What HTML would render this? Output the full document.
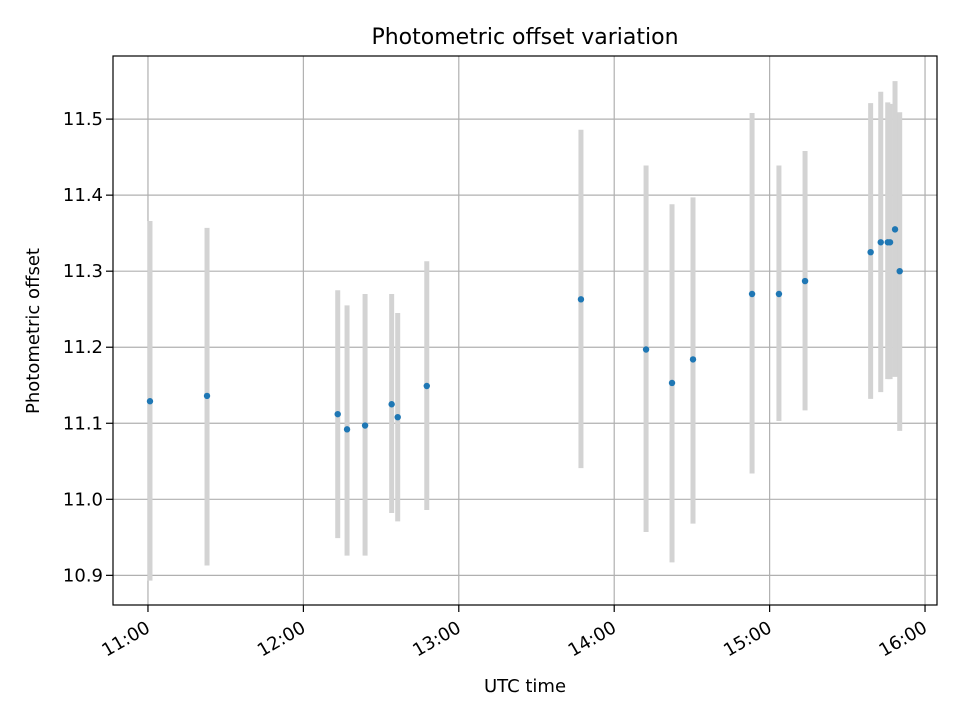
<!DOCTYPE html>
<html><head><meta charset="utf-8"><style>
html,body{margin:0;padding:0;background:#fff;}
svg text{font-family:"DejaVu Sans","Liberation Sans",sans-serif;fill:#000;}
</style></head><body>
<svg id="chart" width="960" height="720" viewBox="0 0 960 720" xmlns="http://www.w3.org/2000/svg">
<rect width="960" height="720" fill="#fff"/>
<g id="grid"></g>
<g id="bars"></g>
<g id="pts"></g>
<rect x="113" y="56" width="824" height="549" fill="none" stroke="#000" stroke-width="1.2"/>
<g id="axes"></g>
<text x="525" y="44" font-size="22" text-anchor="middle">Photometric offset variation</text>
<text x="525" y="692" font-size="18" text-anchor="middle">UTC time</text>
<text x="39" y="331" font-size="18" text-anchor="middle" transform="rotate(-90 39 331)">Photometric offset</text>
</svg>
<script>
const times = [11.013,11.380,12.221,12.281,12.397,12.568,12.607,12.794,13.786,14.205,14.372,14.507,14.887,15.060,15.228,15.650,15.715,15.760,15.775,15.807,15.837];
const values = [11.129,11.136,11.112,11.092,11.097,11.125,11.108,11.149,11.263,11.197,11.153,11.184,11.270,11.270,11.287,11.325,11.338,11.338,11.338,11.355,11.300];
const lows = [10.893,10.913,10.949,10.926,10.926,10.982,10.971,10.986,11.041,10.957,10.917,10.968,11.034,11.103,11.117,11.132,11.141,11.158,11.158,11.161,11.090];
const highs = [11.366,11.357,11.275,11.255,11.270,11.270,11.245,11.313,11.486,11.439,11.388,11.397,11.508,11.439,11.458,11.521,11.536,11.522,11.520,11.550,11.509];
const xTicks = [11,12,13,14,15,16];
const xTickLabels = ["11:00","12:00","13:00","14:00","15:00","16:00"];
const yTicks = [10.9,11.0,11.1,11.2,11.3,11.4,11.5];
const yTickLabels = ["10.9","11.0","11.1","11.2","11.3","11.4","11.5"];

const X0=113,X1=937,Y0=605,Y1=56;
const xMin=10.775,xMax=16.077,yMin=10.861,yMax=11.583;
const xs=v=>X0+(v-xMin)/(xMax-xMin)*(X1-X0);
const ys=v=>Y0-(v-yMin)/(yMax-yMin)*(Y0-Y1);
const NS="http://www.w3.org/2000/svg";
function mk(tag,attrs,parent){const e=document.createElementNS(NS,tag);for(const k in attrs)e.setAttribute(k,attrs[k]);parent.appendChild(e);return e;}
const grid=document.getElementById('grid'),axes=document.getElementById('axes'),bars=document.getElementById('bars'),pts=document.getElementById('pts');
xTicks.forEach((t,i)=>{
  const x=xs(t);
  const g=mk('line',{x1:x,x2:x,y1:Y1,y2:Y0,stroke:'#b0b0b0','stroke-width':1.2},grid);
  
  
  const tk=mk('line',{x1:x,x2:x,y1:Y0,y2:Y0+7,stroke:'#000','stroke-width':1.2},axes);
  
  
  const ax=x-3, ay=Y0+15;
  const tx=mk('text',{x:ax,y:ay,'font-size':18,'text-anchor':'end','dominant-baseline':'hanging',transform:`rotate(-30 ${ax} ${ay})`},axes);
  tx.textContent=xTickLabels[i];
  
  
});
yTicks.forEach((t,i)=>{
  const y=ys(t);
  const g=mk('line',{x1:X0,x2:X1,y1:y,y2:y,stroke:'#b0b0b0','stroke-width':1.2},grid);
  
  
  const tk=mk('line',{x1:X0-7,x2:X0,y1:y,y2:y,stroke:'#000','stroke-width':1.2},axes);
  
  
  const tx=mk('text',{x:X0-10,y:y+6,'font-size':18,'text-anchor':'end'},axes);
  tx.textContent=yTickLabels[i];
  
  
});
times.forEach((t,i)=>{
  const x=xs(t);
  const b=mk('line',{x1:x,x2:x,y1:ys(lows[i]),y2:ys(highs[i]),stroke:'#d3d3d3','stroke-width':5},bars);
  
  
});
times.forEach((t,i)=>{
  const c=mk('circle',{cx:xs(t),cy:ys(values[i]),r:3.2,fill:'#1f77b4'},pts);
  
  
});
</script>
</body></html>
